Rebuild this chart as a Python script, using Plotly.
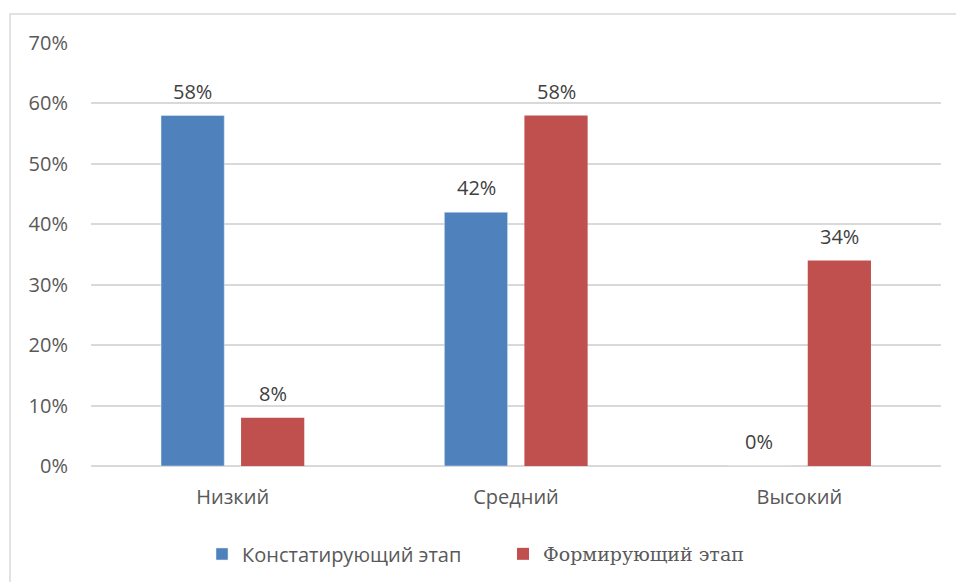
import plotly.graph_objects as go

categories = ["Низкий", "Средний", "Высокий"]
stage_ascertaining = [58, 42, 0]
stage_forming = [8, 58, 34]
series_names = ["Констатирующий этап", "Формирующий этап"]
y_ticks = [0, 10, 20, 30, 40, 50, 60, 70]

BLUE = "#4f81bd"
RED = "#c0504d"
GRID = "#d9d9d9"
FONT = "Open Sans"
SIZE = 20

fig = go.Figure()
fig.add_trace(go.Bar(
    x=categories, y=stage_ascertaining, name=series_names[0],
    marker=dict(color=BLUE), legend="legend", showlegend=True,
))
fig.add_trace(go.Bar(
    x=categories, y=stage_forming, name=series_names[1],
    marker=dict(color=RED, line=dict(width=0)), legend="legend2", showlegend=True,
))

# value labels above each bar
for vals, shift in ((stage_ascertaining, -40), (stage_forming, 40)):
    for cat, v in zip(categories, vals):
        fig.add_annotation(
            x=cat, y=v, text=f"{v}%", showarrow=False,
            xref="x", yref="y", xanchor="center", yanchor="bottom",
            xshift=shift, yshift=9,
            font=dict(family=FONT, size=SIZE, color="#404040"),
        )

# chart area border
fig.add_shape(
    type="rect", xref="paper", yref="paper",
    x0=-0.0953, x1=1.03, y0=-0.29, y1=1.0686,
    line=dict(color=GRID, width=1.5), fillcolor="rgba(0,0,0,0)", layer="below",
)

fig.update_layout(
    width=956, height=582,
    margin=dict(l=91, r=15, t=43, b=116, autoexpand=False),
    paper_bgcolor="white", plot_bgcolor="white",
    showlegend=True,
    barmode="group", bargap=0.435, bargroupgap=0.21,
    font=dict(family=FONT, size=SIZE, color="#595959"),
    xaxis=dict(
        showgrid=False, showline=False, zeroline=False,
        ticks="", ticklabelstandoff=17, automargin=False,
        tickfont=dict(family=FONT, size=SIZE, color="#595959"),
    ),
    yaxis=dict(
        range=[0, 70], tickvals=y_ticks,
        ticktext=[f"{t}%" for t in y_ticks],
        showgrid=True, gridcolor=GRID, gridwidth=1.5,
        zeroline=True, zerolinecolor=GRID, zerolinewidth=1.5,
        showline=False, ticks="", ticklabelstandoff=22, automargin=False,
        tickfont=dict(family=FONT, size=SIZE, color="#595959"),
    ),
    legend=dict(
        x=0.1306, y=-0.208, xanchor="left", yanchor="middle",
        orientation="h", bgcolor="rgba(0,0,0,0)", itemwidth=30,
        font=dict(family=FONT, size=SIZE, color="#595959"),
    ),
    legend2=dict(
        x=0.4847, y=-0.208, xanchor="left", yanchor="middle",
        orientation="h", bgcolor="rgba(0,0,0,0)", itemwidth=30,
        font=dict(family="DejaVu Serif", size=19, color="#595959"),
    ),
)

fig.write_html("out.html")
